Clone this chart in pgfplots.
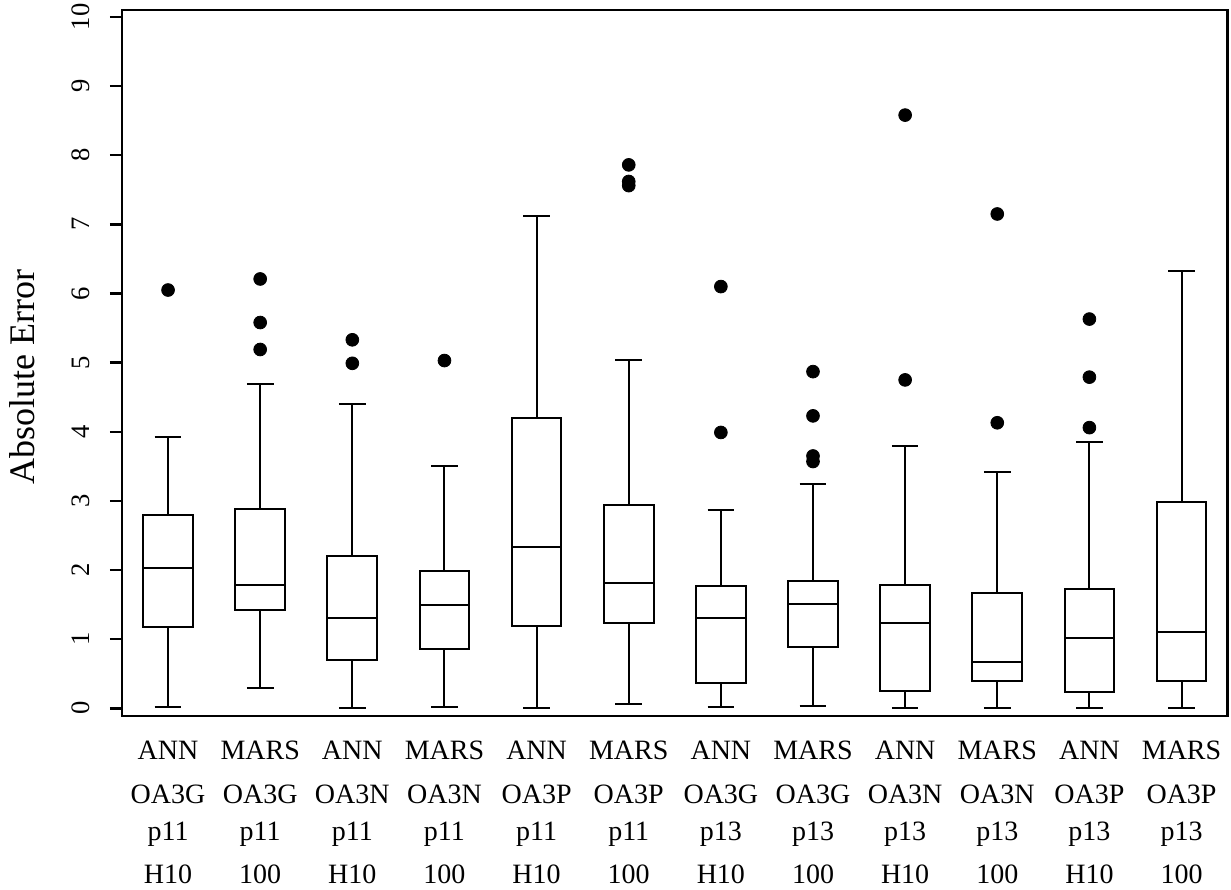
\documentclass[border=0pt]{standalone}
\usepackage{pgfplots}
\pgfplotsset{compat=1.18}
\usepgfplotslibrary{statistics}
\usepackage{fontspec}
\setmainfont{Liberation Serif}

\pgfplotsset{
  rbox/.style={black, line width=1pt, solid, mark=none,
    boxplot/draw direction=y,
    boxplot prepared={draw position=#1, box extend=0.54, whisker extend=0.29}},
}

\begin{document}
\begin{tikzpicture}
\path[use as bounding box] (-61pt,-87pt) rectangle (554.55pt,358pt);
\begin{axis}[
  at={(0pt,0pt)}, anchor=south west, scale only axis,
  width=552.85pt, height=353pt,
  xmin=0.5, xmax=12.5, ymin=-0.11, ymax=10.1,
  axis line style={line width=1.2pt},
  tick align=outside, major tick length=6pt,
  ytick pos=left, xtick pos=bottom,
  ytick={0,1,2,3,4,5,6,7,8,9,10},
  ytick style={line width=1.2pt, black},
  xtick={1,2,3,4,5,6,7,8,9,10,11,12},
  xtick style={draw=none},
  xticklabels={
    {ANN\\[3pt]OA3G\\p11\\[2.6pt]H10},
    {MARS\\[3pt]OA3G\\p11\\[2.6pt]100},
    {ANN\\[3pt]OA3N\\p11\\[2.6pt]H10},
    {MARS\\[3pt]OA3N\\p11\\[2.6pt]100},
    {ANN\\[3pt]OA3P\\p11\\[2.6pt]H10},
    {MARS\\[3pt]OA3P\\p11\\[2.6pt]100},
    {ANN\\[3pt]OA3G\\p13\\[2.6pt]H10},
    {MARS\\[3pt]OA3G\\p13\\[2.6pt]100},
    {ANN\\[3pt]OA3N\\p13\\[2.6pt]H10},
    {MARS\\[3pt]OA3N\\p13\\[2.6pt]100},
    {ANN\\[3pt]OA3P\\p13\\[2.6pt]H10},
    {MARS\\[3pt]OA3P\\p13\\[2.6pt]100}},
  xticklabel style={yshift=-6.3pt, align=center, anchor=north, inner sep=0pt,
    font=\fontsize{14pt}{18.8pt}\selectfont},
  yticklabel style={xshift=-10pt, rotate=90, anchor=base, inner sep=0pt,
    font=\fontsize{13.3pt}{16pt}\selectfont},
  /pgf/number format/assume math mode=true,
  ylabel={Absolute Error},
  every axis y label/.style={at={(axis description cs:-0.0787,0.4795)}, rotate=90, anchor=base,
    font=\fontsize{18pt}{22pt}\selectfont},
  clip=false,
]
% box statistics: lower whisker, Q1, median, Q3, upper whisker
\addplot[rbox=1, boxplot prepared={lower whisker=0.02, lower quartile=1.18, median=2.03, upper quartile=2.80, upper whisker=3.92}] coordinates {};
\addplot[rbox=2, boxplot prepared={lower whisker=0.30, lower quartile=1.42, median=1.79, upper quartile=2.89, upper whisker=4.69}] coordinates {};
\addplot[rbox=3, boxplot prepared={lower whisker=0.00, lower quartile=0.70, median=1.30, upper quartile=2.21, upper whisker=4.40}] coordinates {};
\addplot[rbox=4, boxplot prepared={lower whisker=0.02, lower quartile=0.86, median=1.49, upper quartile=1.98, upper whisker=3.51}] coordinates {};
\addplot[rbox=5, boxplot prepared={lower whisker=0.00, lower quartile=1.19, median=2.33, upper quartile=4.20, upper whisker=7.12}] coordinates {};
\addplot[rbox=6, boxplot prepared={lower whisker=0.07, lower quartile=1.24, median=1.82, upper quartile=2.94, upper whisker=5.04}] coordinates {};
\addplot[rbox=7, boxplot prepared={lower whisker=0.02, lower quartile=0.37, median=1.30, upper quartile=1.77, upper whisker=2.87}] coordinates {};
\addplot[rbox=8, boxplot prepared={lower whisker=0.04, lower quartile=0.88, median=1.51, upper quartile=1.84, upper whisker=3.24}] coordinates {};
\addplot[rbox=9, boxplot prepared={lower whisker=0.00, lower quartile=0.25, median=1.24, upper quartile=1.79, upper whisker=3.80}] coordinates {};
\addplot[rbox=10, boxplot prepared={lower whisker=0.00, lower quartile=0.40, median=0.67, upper quartile=1.67, upper whisker=3.42}] coordinates {};
\addplot[rbox=11, boxplot prepared={lower whisker=0.00, lower quartile=0.23, median=1.02, upper quartile=1.73, upper whisker=3.85}] coordinates {};
\addplot[rbox=12, boxplot prepared={lower whisker=0.00, lower quartile=0.40, median=1.10, upper quartile=2.99, upper whisker=6.33}] coordinates {};
% outliers
\addplot[only marks, mark=*, mark size=3.2pt, black, mark options={line width=0.4pt}] coordinates {
  (1,6.05)
  (2,6.21) (2,5.58) (2,5.19)
  (3,5.33) (3,4.99)
  (4,5.03)
  (6,7.86) (6,7.62) (6,7.56)
  (7,6.10) (7,3.99)
  (8,4.87) (8,4.23) (8,3.65) (8,3.57)
  (9,8.58) (9,4.75)
  (10,7.15) (10,4.13)
  (11,5.63) (11,4.79) (11,4.06)
};
\end{axis}
\end{tikzpicture}
\end{document}
